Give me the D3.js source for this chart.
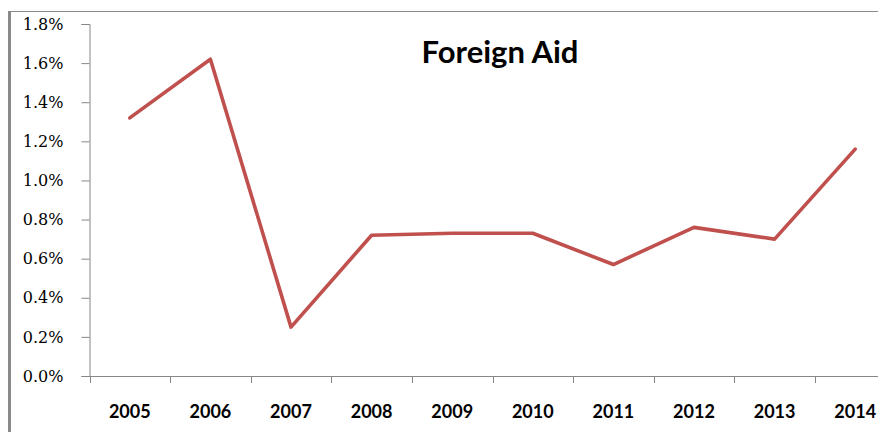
<!DOCTYPE html>
<html>
<head>
<meta charset="utf-8">
<script src="https://cdn.jsdelivr.net/npm/d3@7"></script>
<style>
  html, body { margin: 0; padding: 0; background: #fff; }
  svg { display: block; }
</style>
</head>
<body>
<svg id="chart" width="878" height="432"></svg>
<script>
// Foreign aid as a share, by year
const years = ["2005", "2006", "2007", "2008", "2009", "2010", "2011", "2012", "2013", "2014"];
const aidShare = [1.32, 1.62, 0.25, 0.72, 0.73, 0.73, 0.57, 0.76, 0.70, 1.16];
const yTicks = [0, 0.2, 0.4, 0.6, 0.8, 1.0, 1.2, 1.4, 1.6, 1.8];
const chartTitle = "Foreign Aid";

const svg = d3.select("#chart");
const axisColor = "#868686";

// Plot area; the category axis runs past the right edge of the frame
const plotLeft = 89.5, plotTop = 24, plotBottom = 376;
const band = 80.6;
const plotRight = plotLeft + band * years.length;

// Frame lines
svg.append("line").attr("x1", 9.5).attr("x2", 9.5).attr("y1", 11).attr("y2", 432)
  .attr("stroke", "#8a8a8a").attr("stroke-width", 3);
svg.append("line").attr("x1", 8).attr("x2", 878).attr("y1", 11.5).attr("y2", 11.5)
  .attr("stroke", "#8a8a8a").attr("stroke-width", 1);

const x = d3.scaleBand().domain(years).range([plotLeft, plotRight]);
const y = d3.scaleLinear().domain([0, 1.8]).range([plotBottom, plotTop]);

// Y axis
const yAxis = d3.axisLeft(y).tickValues(yTicks).tickSize(8).tickPadding(18)
  .tickFormat(d => d.toFixed(1) + "%");
const gy = svg.append("g").attr("transform", `translate(${plotLeft},0)`).call(yAxis);
gy.select(".domain").attr("stroke", axisColor);
gy.selectAll(".tick line").attr("stroke", axisColor);
gy.selectAll(".tick text")
  .attr("fill", "#000")
  .style("font-family", "'DejaVu Serif', serif")
  .style("font-size", "16px");

// X axis with ticks on band boundaries
const gx = svg.append("g").attr("transform", `translate(0,${plotBottom})`);
gx.append("line").attr("x1", plotLeft).attr("x2", plotRight).attr("y1", 0.5).attr("y2", 0.5)
  .attr("stroke", axisColor);
gx.selectAll("line.tk").data(years).join("line").attr("class", "tk")
  .attr("x1", d => Math.round(x(d)) + 0.5).attr("x2", d => Math.round(x(d)) + 0.5)
  .attr("y1", 0).attr("y2", 7).attr("stroke", axisColor);
gx.selectAll("text").data(years).join("text")
  .attr("x", d => x(d) + x.bandwidth() / 2)
  .attr("y", 42)
  .attr("text-anchor", "middle")
  .style("font-family", "Lato, sans-serif")
  .style("font-weight", "bold")
  .style("font-size", "18px")
  .attr("fill", "#000")
  .text(d => d);

// Series line
const line = d3.line()
  .x((d, i) => x(years[i]) + x.bandwidth() / 2)
  .y(d => y(d));
svg.append("path").datum(aidShare)
  .attr("d", line)
  .attr("fill", "none")
  .attr("stroke", "#C0504D")
  .attr("stroke-width", 3.6)
  .attr("stroke-linejoin", "round")
  .attr("stroke-linecap", "round");

// Title
svg.append("text")
  .attr("x", 500).attr("y", 63)
  .attr("text-anchor", "middle")
  .style("font-family", "Lato, sans-serif")
  .style("font-weight", "bold")
  .style("font-size", "31px")
  .attr("fill", "#000")
  .text(chartTitle);
</script>
</body>
</html>
